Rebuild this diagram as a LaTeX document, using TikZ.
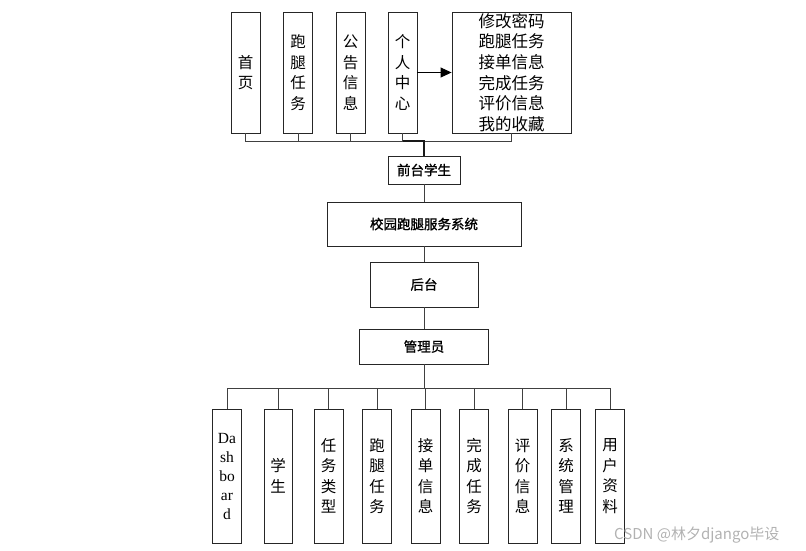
\documentclass[tikz,border=0pt]{standalone}
\usepackage{fontspec}
\newfontfamily\cjk{Noto Sans CJK SC}
\newfontfamily\cjkb[FakeBold=1.2]{Noto Sans CJK SC}
\newfontfamily\lat{Liberation Serif}
\usetikzlibrary{arrows.meta}
\tikzset{
  box/.style={draw=black!85, line width=0.9pt, fill=white, inner sep=0pt, align=center},
  vbox/.style={box, minimum width=29pt, font=\cjk\fontsize{15.5}{20.5}\selectfont},
  hbox/.style={box, font=\cjkb\fontsize{13.5}{16}\selectfont},
  conn/.style={draw=black!75, line width=0.9pt},
  thick conn/.style={draw=black!90, line width=1.6pt}
}
\begin{document}
\begin{tikzpicture}[x=1pt,y=-1pt]
\useasboundingbox (0,0) rectangle (806,550);
% top row
\node[vbox, minimum height=121pt] (t1) at (245.5,72.5) {首\\页};
\node[vbox, minimum height=121pt] (t2) at (298,72.5) {跑\\腿\\任\\务};
\node[vbox, minimum height=121pt] (t3) at (350.5,72.5) {公\\告\\信\\息};
\node[vbox, minimum height=121pt] (t4) at (402.5,72.5) {个\\人\\中\\心};
\node[box, minimum width=119pt, minimum height=121pt, font=\cjk\fontsize{16.5}{20.7}\selectfont] (t5) at (511.5,72.5) {修改密码\\跑腿任务\\接单信息\\完成任务\\评价信息\\我的收藏};
\draw[draw=black, line width=1pt, -{Triangle[length=11pt,width=10pt]}] (t4.east) -- (t5.west);
% middle chain
\node[hbox, minimum width=72pt, minimum height=28pt] (front) at (424,170) {前台学生};
\node[hbox, minimum width=194pt, minimum height=44pt] (sys) at (424,224) {校园跑腿服务系统};
\node[hbox, minimum width=108pt, minimum height=45pt] (back) at (424,284.5) {后台};
\node[hbox, minimum width=129pt, minimum height=35pt] (admin) at (424,346.5) {管理员};
\coordinate (busT) at (424,141);
\foreach \n in {t1,t2,t3,t4,t5} \draw[conn] (\n.south) |- (busT);
\draw[thick conn] (t4.south |- busT) -- (busT) -- (front.north);
\draw[conn] (front.south) -- (sys.north);
\draw[conn] (sys.south) -- (back.north);
\draw[conn] (back.south) -- (admin.north);
% bottom row
\node[vbox, minimum height=134pt, font=\lat\fontsize{15.5}{19}\selectfont] (b1) at (227,476) {Da\\sh\\bo\\ar\\d};
\node[vbox, minimum width=28pt, minimum height=134pt] (b2) at (278,476) {学\\生};
\node[vbox, minimum height=134pt] (b3) at (328.5,476) {任\\务\\类\\型};
\node[vbox, minimum height=134pt] (b4) at (377,476) {跑\\腿\\任\\务};
\node[vbox, minimum height=134pt] (b5) at (425.5,476) {接\\单\\信\\息};
\node[vbox, minimum height=134pt] (b6) at (474,476) {完\\成\\任\\务};
\node[vbox, minimum height=134pt] (b7) at (522.5,476) {评\\价\\信\\息};
\node[vbox, minimum height=134pt] (b8) at (566,476) {系\\统\\管\\理};
\node[vbox, minimum height=134pt] (b9) at (610,476) {用\\户\\资\\料};
\coordinate (busB) at (424,388);
\draw[conn] (admin.south) -- (busB);
\foreach \n in {b1,b2,b3,b4,b5,b6,b7,b8,b9} \draw[conn] (busB) -| (\n.north);
% watermark
\node[anchor=west, text=black!30, font=\cjk\fontsize{15}{17}\selectfont, inner sep=0pt] (wm) at (614,535) {CSDN @林夕django毕设};
\end{tikzpicture}
\end{document}
